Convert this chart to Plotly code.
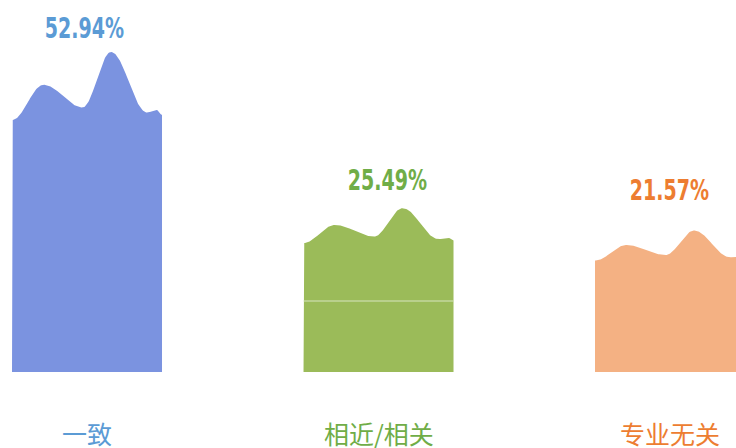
import numpy as np
import plotly.graph_objects as go

# ---- data ----
categories = ["一致", "相近/相关", "专业无关"]
values = [52.94, 25.49, 21.57]
pct_labels = ["52.94%", "25.49%", "21.57%"]

# ---- style ----
bar_colors = ["#7B93E0", "#9BBB59", "#F4B183"]
text_colors = ["#5B9BD5", "#70AD47", "#ED7D31"]
BASE = -3.3          # visual baseline of bars (data units)
HALF = 0.2573        # half bar width (category units)
# decorative wave profile (relative height multiplier along bar width)
wave_t = [0.0, 0.21, 0.47, 0.66, 0.90, 0.965, 1.0]
wave_f = [1.0, 1.14, 1.05, 1.27, 1.03, 1.04, 1.02]
label_yshift = [24, 28, 40]
label_xshift = [-3, 9, -1]


def wave(t):
    t = np.asarray(t, dtype=float)
    out = np.empty_like(t)
    for j, tv in enumerate(t):
        for k in range(len(wave_t) - 1):
            t0, t1 = wave_t[k], wave_t[k + 1]
            if t0 <= tv <= t1:
                mu = (tv - t0) / (t1 - t0)
                m2 = (1 - np.cos(np.pi * mu)) / 2
                out[j] = wave_f[k] * (1 - m2) + wave_f[k + 1] * m2
                break
    return out


fig = go.Figure()
tt = np.linspace(0, 1, 200)
wv = wave(tt)
peaks = []
for i, v in enumerate(values):
    xs = i - HALF + tt * 2 * HALF
    top = BASE + (v - BASE) * wv
    peaks.append(top.max())
    x_poly = np.concatenate([[i - HALF], xs, [i + HALF, i - HALF]])
    y_poly = np.concatenate([[BASE], top, [BASE, BASE]])
    fig.add_trace(go.Scatter(
        x=x_poly, y=y_poly, mode="lines", fill="toself",
        fillcolor=bar_colors[i], line=dict(width=0, color=bar_colors[i]),
        hoverinfo="skip", showlegend=False))

# thin light line across the green bar
fig.add_shape(type="line", x0=1 - HALF, x1=1 + HALF, y0=12.55, y1=12.55,
              line=dict(color="#D8E6C0", width=1.2), layer="above")

for i, v in enumerate(values):
    fig.add_annotation(
        x=i, y=peaks[i], text="<b>" + pct_labels[i] + "</b>", showarrow=False,
        xshift=label_xshift[i], yshift=label_yshift[i], yanchor="middle",
        font=dict(family="DejaVu Sans, sans-serif",
                  size=28, color=text_colors[i]))
    fig.add_annotation(
        x=i, y=0, yref="paper", text=categories[i], showarrow=False,
        yshift=-61, yanchor="middle",
        font=dict(family="Noto Sans CJK SC, sans-serif", size=25, color=text_colors[i]))

fig.update_xaxes(range=[-0.2985, 2.2264], visible=False, showgrid=False, zeroline=False)
fig.update_yaxes(range=[BASE, 79.74], visible=False, showgrid=False, zeroline=False)
fig.update_layout(width=736, height=448, autosize=False,
                  margin=dict(l=0, r=0, t=0, b=76),
                  paper_bgcolor="white", plot_bgcolor="white")

# page margin reset + condensed look for the percentage labels
post = (
    "document.body.style.margin='0';"
    "document.querySelectorAll('.annotation-text').forEach(function(t){"
    "if(t.textContent.indexOf('%')>=0){"
    "t.style.transformBox='fill-box';t.style.transformOrigin='center';"
    "t.style.transform='scaleX(0.68)';}});"
)
fig.write_html("out.html", post_script=post, config={"displayModeBar": False})
